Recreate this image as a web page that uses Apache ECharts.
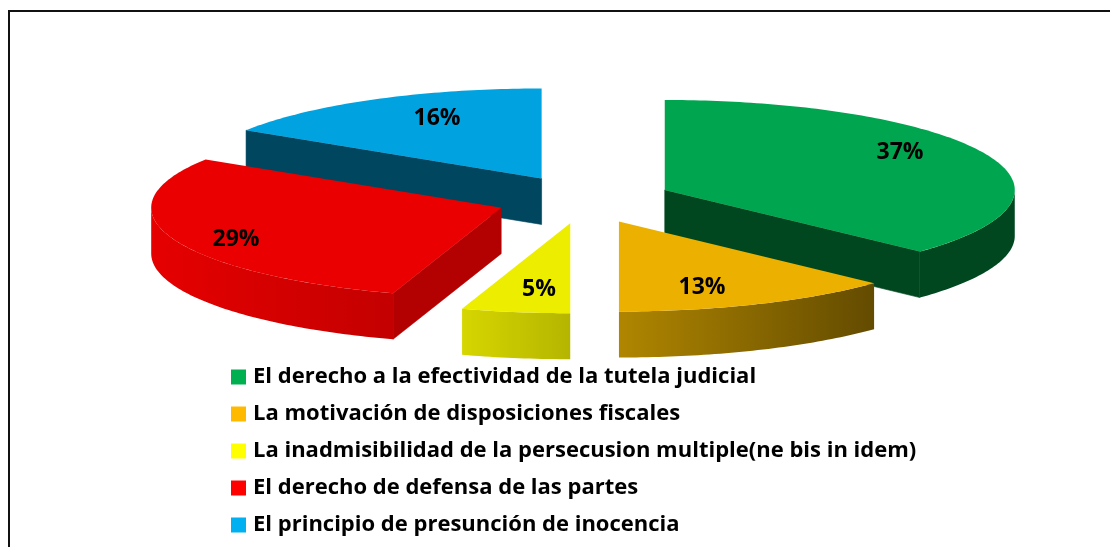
<!DOCTYPE html>
<html>
<head>
<meta charset="utf-8">
<style>
  html, body { margin: 0; padding: 0; background: #fff; }
  #chart { width: 1110px; height: 547px; }
</style>
<script src="https://cdn.jsdelivr.net/npm/echarts@6/dist/echarts.min.js"></script>
</head>
<body>
<div id="chart"></div>
<script>
  const categories = [
    'El derecho a la efectividad de la tutela judicial',
    'La motivación de disposiciones fiscales',
    'La inadmisibilidad de la persecusion multiple(ne bis in idem)',
    'El derecho de defensa de las partes',
    'El principio de presunción de inocencia'
  ]
  const values = [37, 13, 5, 29, 16]

  // legend colours, then the shaded faces of the 3D slices
  const legendColors = ['#00B050', '#FFBA00', '#FFFF00', '#FF0000', '#00B0F0']
  const topColors = ['#00A54F', '#ECB000', '#EDED00', '#EA0000', '#00A2E0']
  const edgeColors = ['#00471F', '#6B5000', '#B8B800', '#B30000', '#00465F']
  const wallFrom = ['#00471F', '#B08600', '#D6D600', '#E60000', '#00465F']
  const wallTo = ['#00471F', '#634B00', '#B5B500', '#C40000', '#00465F']

  // label centres, they do not follow a radial rule in the original
  const labelPos = [[900, 152], [702, 287], [539, 289], [236, 239], [437, 118]]

  // pie projection
  const center = [584, 199.5]
  const rx = 350
  const ry = 90
  const depth = 46
  const explodeX = 88
  const explodeY = 24

  const total = values.reduce((a, b) => a + b, 0)
  const rad = (v) => (v / total) * Math.PI * 2

  function rimPoint(apex, t, dy) {
    return [apex[0] + rx * Math.sin(t), apex[1] - ry * Math.cos(t) + dy]
  }

  function arcPoints(apex, a0, a1, dy) {
    const pts = []
    const n = Math.max(2, Math.ceil((a1 - a0) * 60))
    for (let i = 0; i <= n; i++) {
      pts.push(rimPoint(apex, a0 + ((a1 - a0) * i) / n, dy))
    }
    return pts
  }

  function polygon(points, fill, stroke) {
    return {
      type: 'polygon',
      shape: { points },
      style: { fill, stroke: stroke || fill, lineWidth: stroke ? 0.6 : 0 }
    }
  }

  function sliceGroup(idx) {
    const a0 = rad(values.slice(0, idx).reduce((a, b) => a + b, 0))
    const a1 = a0 + rad(values[idx])
    const mid = (a0 + a1) / 2
    const apex = [
      center[0] + explodeX * Math.sin(mid),
      center[1] - explodeY * Math.cos(mid)
    ]
    const children = []

    // flat cut faces
    const cut = (t) => {
      const rim = rimPoint(apex, t, 0)
      children.push(polygon([apex, rim, [rim[0], rim[1] + depth], [apex[0], apex[1] + depth]], edgeColors[idx], edgeColors[idx]))
    }
    if (a1 < Math.PI - 0.001) cut(a1)
    if (a0 > Math.PI + 0.001) cut(a0)

    // outer wall, only the front half of the rim shows
    const w0 = Math.max(a0, Math.PI / 2)
    const w1 = Math.min(a1, (Math.PI * 3) / 2)
    if (w1 > w0) {
      const top = arcPoints(apex, w0, w1, 0)
      const bottom = arcPoints(apex, w0, w1, depth).reverse()
      // gradient always runs left to right on screen
      const fill = new echarts.graphic.LinearGradient(0, 0, 1, 0, [
        { offset: 0, color: wallFrom[idx] },
        { offset: 1, color: wallTo[idx] }
      ])
      children.push(polygon(top.concat(bottom), fill))
    }

    // top face
    children.push(polygon([apex].concat(arcPoints(apex, a0, a1, 0)), topColors[idx]))

    children.push({
      type: 'text',
      z2: 10,
      style: {
        x: labelPos[idx][0],
        y: labelPos[idx][1],
        text: values[idx] + '%',
        fill: '#000',
        font: 'bold 23px "Open Sans"',
        align: 'center',
        verticalAlign: 'middle'
      }
    })
    return { type: 'group', children }
  }

  // back slices are painted first
  const drawOrder = [4, 3, 0, 2, 1]
  const series = drawOrder.map((idx) => ({
    type: 'custom',
    name: categories[idx],
    coordinateSystem: 'none',
    silent: true,
    itemStyle: { color: legendColors[idx] },
    data: [values[idx]],
    renderItem: () => sliceGroup(idx)
  }))

  const chart = echarts.init(document.getElementById('chart'))
  chart.setOption({
    animation: false,
    backgroundColor: '#fff',
    legend: {
      data: categories,
      orient: 'vertical',
      left: 226,
      top: 359,
      height: 190,
      icon: 'rect',
      itemWidth: 15,
      itemHeight: 15,
      itemGap: 11,
      selectedMode: false,
      textStyle: {
        color: '#000',
        fontFamily: 'Open Sans',
        fontWeight: 'bold',
        fontSize: 22,
        lineHeight: 26,
        padding: [0, 0, 0, 2]
      }
    },
    graphic: [
      {
        type: 'polyline',
        silent: true,
        shape: { points: [[9, 547], [9, 11], [1110, 11]] },
        style: { stroke: '#111', lineWidth: 2, fill: 'none' }
      }
    ],
    series
  })
</script>
</body>
</html>
